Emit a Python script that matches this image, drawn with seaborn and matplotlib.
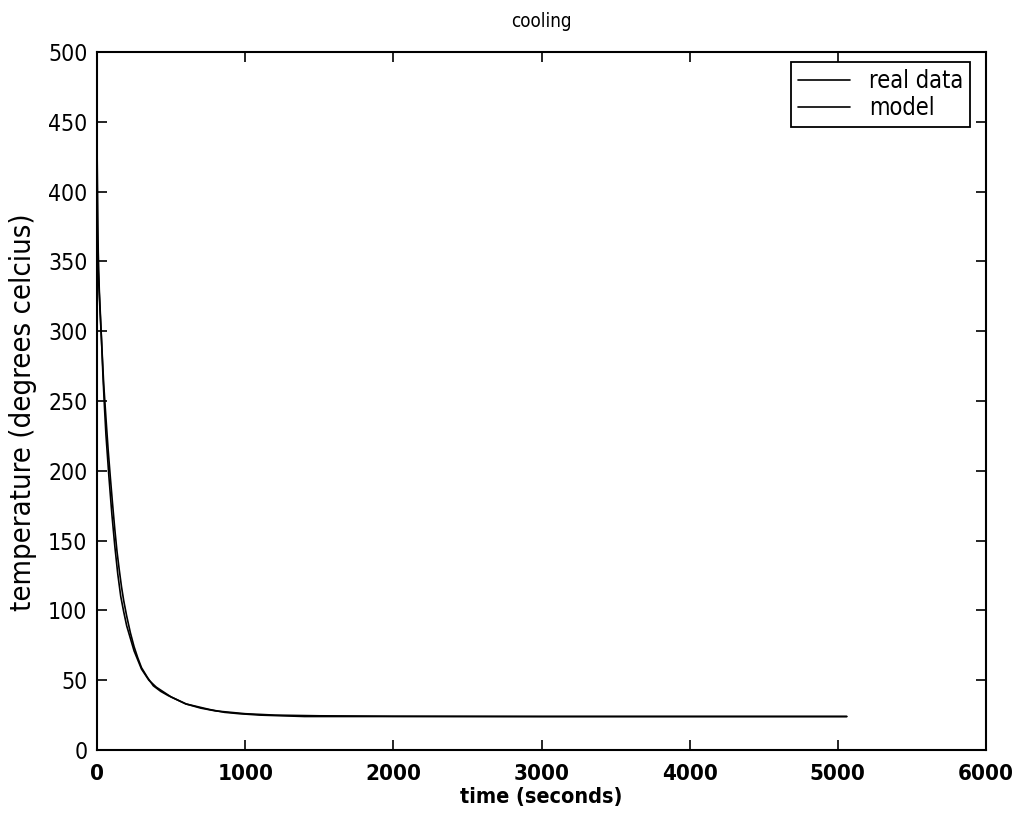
import matplotlib
matplotlib.use("Agg")
import matplotlib.pyplot as plt
import seaborn as sns
import pandas as pd

# ---- data ----
real_time = [0, 8, 15, 30, 45, 60, 75, 90, 105, 120, 135, 150, 165, 180, 200, 225,
             250, 275, 300, 340, 380, 430, 480, 540, 600, 680, 760, 860, 960, 1100,
             1250, 1400, 1600, 2000, 3000, 4000, 5060]
real_temp = [431, 357, 330, 294, 262, 238, 215, 195, 176, 158, 142, 129, 117, 107, 96, 84,
             74, 66, 59, 52, 46, 42, 39, 36, 33, 31, 29, 27, 26, 25,
             24.5, 24, 24, 24, 24, 24, 24]

model_time = [0, 10, 20, 30, 40, 50, 60, 80, 100, 120, 140, 160, 180, 200, 250, 300,
              350, 400, 500, 600, 700, 800, 1000, 1200, 1500, 2000, 3000, 4000, 5060]
model_temp = [360, 338, 315, 294, 268, 246, 226, 196, 169, 146, 126, 110, 99, 89, 71, 58,
              50, 45, 38, 33, 30, 28, 26, 25, 24.5, 24.2, 24, 24, 24]

x_ticks = [0, 1000, 2000, 3000, 4000, 5000, 6000]
y_ticks = [0, 50, 100, 150, 200, 250, 300, 350, 400, 450, 500]

title = "cooling"
xlabel = "time (seconds)"
ylabel = "temperature (degrees celcius)"

sns.set_style("ticks")
plt.rcParams['font.family'] = ['DejaVu Sans']
plt.rcParams['font.stretch'] = 'condensed'
plt.rcParams['text.color'] = 'black'
plt.rcParams['axes.labelcolor'] = 'black'

fig = plt.figure(figsize=(10.14, 8.27), dpi=100)
ax = fig.add_axes([0.0957, 0.0931, 0.8767, 0.844])

real_df = pd.DataFrame({"t": real_time, "T": real_temp})
model_df = pd.DataFrame({"t": model_time, "T": model_temp})

sns.lineplot(data=real_df, x="t", y="T", ax=ax, color="black", lw=1.2,
             estimator=None, sort=False, label="real data")
sns.lineplot(data=model_df, x="t", y="T", ax=ax, color="black", lw=1.2,
             estimator=None, sort=False, label="model")

ax.set_xlim(0, 6000)
ax.set_ylim(0, 500)
ax.set_xticks(x_ticks)
ax.set_yticks(y_ticks)
ax.tick_params(direction="in", length=7, width=1.2, top=True, right=True,
               colors="black")
ax.tick_params(axis="x", pad=10, labelsize=16)
ax.tick_params(axis="y", pad=7, labelsize=16.5)
for lab in ax.get_xticklabels():
    lab.set_fontweight("bold")
for s in ax.spines.values():
    s.set_visible(True)
    s.set_linewidth(1.5)
    s.set_color("black")

ax.set_title(title, fontsize=13.5, pad=18, color="black")
ax.set_xlabel(xlabel, fontsize=15.5, fontweight="bold", labelpad=2)
ax.set_ylabel(ylabel, fontsize=21, labelpad=5)
ax.yaxis.set_label_coords(-0.068, 0.484)

leg = ax.legend(loc="upper right", bbox_to_anchor=(0.982, 0.986), fontsize=17,
                frameon=True, fancybox=False, edgecolor="black", framealpha=1,
                handlelength=2.2, handletextpad=0.8, borderaxespad=0,
                borderpad=0.3, labelspacing=0.15)
leg.get_frame().set_linewidth(1.3)
for t in leg.get_texts():
    t.set_color("black")

fig.savefig("out.png", dpi=100, facecolor="white")
